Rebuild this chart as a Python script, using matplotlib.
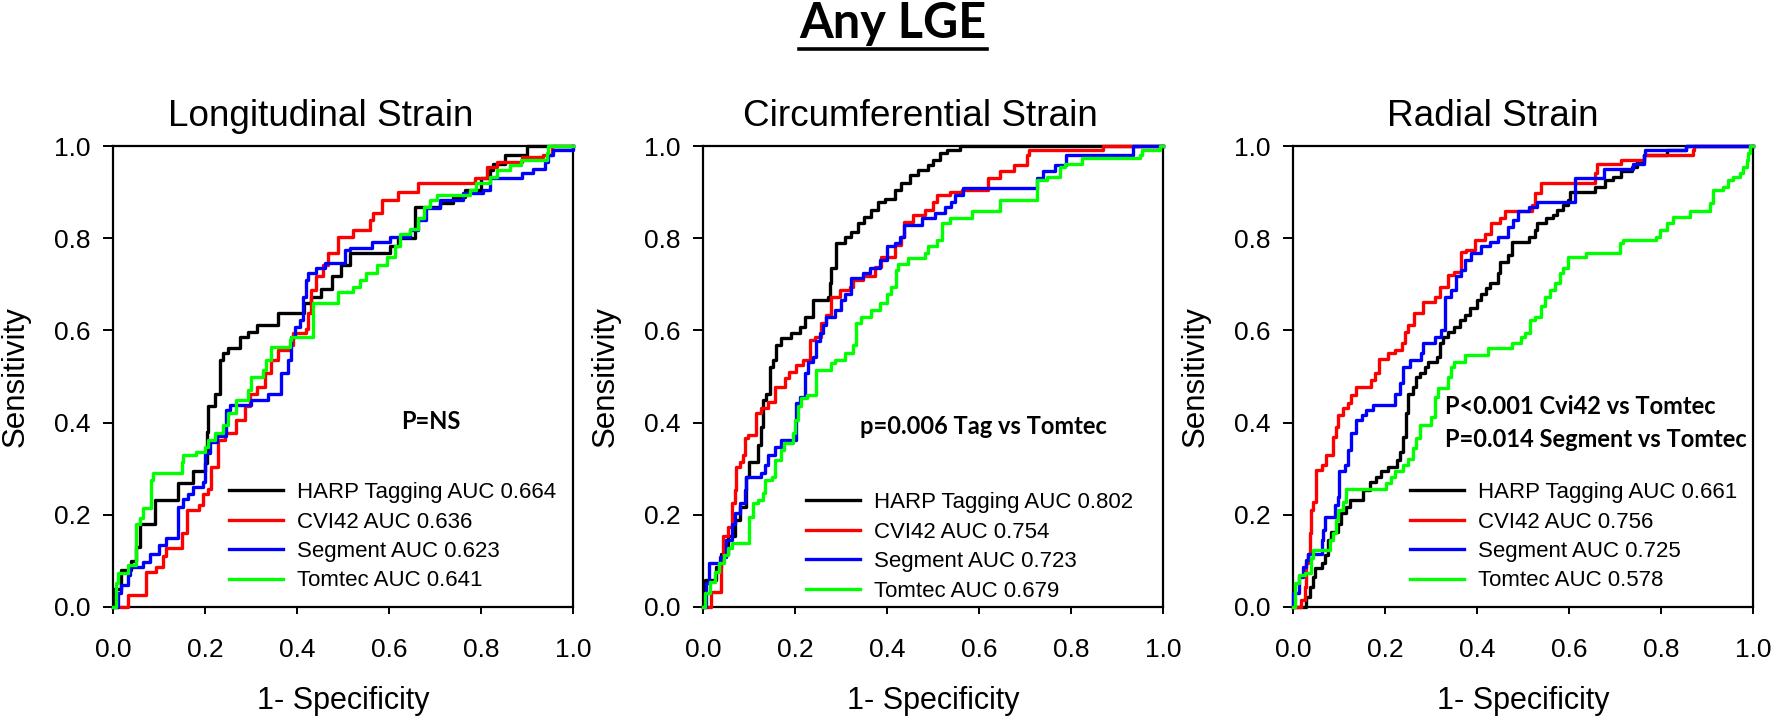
import numpy as np
import matplotlib
matplotlib.use("Agg")
import matplotlib.pyplot as plt
from matplotlib.lines import Line2D
from matplotlib.ticker import FormatStrFormatter

plt.rcParams['font.family'] = ['Liberation Sans', 'DejaVu Sans']

# ---Data (fpr, tpr)---
PANEL_TITLES = ["Longitudinal Strain", "Circumferential Strain", "Radial Strain"]
METHODS = ["HARP Tagging", "CVI42", "Segment", "Tomtec"]
COLORS = ["#000000", "#ff0000", "#0000ff", "#00ff00"]

LONG_AUC = [0.664, 0.636, 0.623, 0.641]
CIRC_AUC = [0.802, 0.754, 0.723, 0.679]
RAD_AUC = [0.661, 0.756, 0.725, 0.578]

P_TEXTS = [["P=NS"], ["p=0.006 Tag vs Tomtec"],
           ["P<0.001 Cvi42 vs Tomtec", "P=0.014 Segment vs Tomtec"]]

LONG_HARP = [(0, 0), (0.003, 0.04), (0.018, 0.08), (0.04, 0.10), (0.05, 0.13), (0.058, 0.181),
             (0.091, 0.232), (0.141, 0.268), (0.174, 0.294), (0.199, 0.312), (0.205, 0.38),
             (0.207, 0.435), (0.221, 0.463), (0.232, 0.536), (0.239, 0.55), (0.25, 0.561),
             (0.275, 0.586), (0.293, 0.597), (0.312, 0.612), (0.359, 0.637), (0.415, 0.66),
             (0.43, 0.672), (0.453, 0.69), (0.475, 0.717), (0.496, 0.742), (0.515, 0.767),
             (0.602, 0.782), (0.62, 0.80), (0.656, 0.868), (0.711, 0.876), (0.74, 0.89),
             (0.765, 0.905), (0.80, 0.93), (0.82, 0.948), (0.827, 0.962), (0.852, 0.98),
             (0.899, 1.0), (1.0, 1.0)]
LONG_CVI42 = [(0, 0), (0.018, 0.0), (0.033, 0.026), (0.072, 0.077), (0.094, 0.087), (0.109, 0.11),
              (0.116, 0.127), (0.149, 0.16), (0.16, 0.21), (0.188, 0.221), (0.196, 0.246),
              (0.207, 0.257), (0.214, 0.304), (0.228, 0.362), (0.243, 0.377), (0.268, 0.406),
              (0.286, 0.435), (0.297, 0.463), (0.312, 0.478), (0.33, 0.507), (0.344, 0.536),
              (0.359, 0.557), (0.384, 0.568), (0.391, 0.594), (0.42, 0.604), (0.424, 0.637),
              (0.431, 0.688), (0.442, 0.717), (0.457, 0.742), (0.467, 0.767), (0.489, 0.803),
              (0.522, 0.818), (0.558, 0.84), (0.566, 0.854), (0.584, 0.883), (0.62, 0.901),
              (0.664, 0.919), (0.787, 0.93), (0.812, 0.955), (0.834, 0.966), (0.889, 0.977),
              (0.935, 0.98), (0.954, 1.0), (1.0, 1.0)]
LONG_SEGMENT = [(0, 0), (0.011, 0), (0.011, 0.03), (0.018, 0.048), (0.033, 0.069), (0.036, 0.087),
                (0.065, 0.098), (0.08, 0.116), (0.101, 0.134), (0.116, 0.149), (0.141, 0.217),
                (0.152, 0.235), (0.163, 0.246), (0.174, 0.261), (0.196, 0.272), (0.199, 0.333),
                (0.21, 0.359), (0.225, 0.37), (0.246, 0.427), (0.254, 0.438), (0.301, 0.449),
                (0.337, 0.463), (0.366, 0.507), (0.38, 0.536), (0.388, 0.586), (0.395, 0.608),
                (0.406, 0.623), (0.413, 0.673), (0.42, 0.709), (0.424, 0.724), (0.442, 0.735),
                (0.46, 0.746), (0.504, 0.774), (0.515, 0.778), (0.562, 0.792), (0.602, 0.803),
                (0.646, 0.818), (0.664, 0.84), (0.68, 0.865), (0.711, 0.883), (0.761, 0.897),
                (0.805, 0.905), (0.82, 0.93), (0.889, 0.941), (0.913, 0.951), (0.939, 0.966),
                (0.946, 0.98), (0.957, 0.991), (1.0, 0.991), (1.0, 1.0)]
LONG_TOMTEC = [(0, 0), (0.007, 0.051), (0.011, 0.073), (0.033, 0.091), (0.051, 0.181), (0.058, 0.192),
               (0.065, 0.214), (0.083, 0.275), (0.087, 0.29), (0.149, 0.315), (0.152, 0.33),
               (0.181, 0.337), (0.199, 0.348), (0.207, 0.362), (0.221, 0.377), (0.239, 0.395),
               (0.25, 0.42), (0.268, 0.449), (0.293, 0.471), (0.301, 0.5), (0.326, 0.514),
               (0.333, 0.536), (0.344, 0.565), (0.384, 0.579), (0.388, 0.586), (0.435, 0.659),
               (0.489, 0.684), (0.522, 0.695), (0.537, 0.709), (0.551, 0.724), (0.573, 0.742),
               (0.595, 0.76), (0.613, 0.782), (0.624, 0.81), (0.646, 0.821), (0.664, 0.843),
               (0.675, 0.868), (0.69, 0.883), (0.704, 0.894), (0.776, 0.905), (0.79, 0.919),
               (0.82, 0.933), (0.834, 0.948), (0.863, 0.959), (0.888, 0.969), (0.943, 0.984),
               (0.946, 1.0), (1.0, 1.0)]

CIRC_HARP = [(0, 0), (0.004, 0.058), (0.029, 0.087), (0.04, 0.116), (0.054, 0.153), (0.069, 0.189),
             (0.08, 0.218), (0.094, 0.283), (0.101, 0.315), (0.12, 0.351), (0.127, 0.391),
             (0.13, 0.449), (0.138, 0.463), (0.145, 0.521), (0.152, 0.536), (0.159, 0.568),
             (0.17, 0.583), (0.192, 0.594), (0.21, 0.608), (0.221, 0.63), (0.239, 0.666),
             (0.272, 0.673), (0.275, 0.702), (0.279, 0.735), (0.29, 0.789), (0.308, 0.803),
             (0.322, 0.814), (0.337, 0.832), (0.351, 0.847), (0.366, 0.861), (0.38, 0.879),
             (0.395, 0.886), (0.417, 0.905), (0.431, 0.919), (0.449, 0.937), (0.467, 0.948),
             (0.489, 0.959), (0.501, 0.97), (0.515, 0.984), (0.53, 0.991), (0.558, 1.0), (1.0, 1.0)]
CIRC_CVI42 = [(0, 0), (0.011, 0), (0.018, 0.033), (0.04, 0.102), (0.043, 0.153), (0.054, 0.174),
              (0.062, 0.225), (0.069, 0.254), (0.072, 0.304), (0.08, 0.315), (0.087, 0.33),
              (0.091, 0.366), (0.098, 0.373), (0.116, 0.42), (0.127, 0.431), (0.141, 0.445),
              (0.156, 0.478), (0.178, 0.496), (0.188, 0.51), (0.203, 0.525), (0.217, 0.536),
              (0.232, 0.579), (0.243, 0.586), (0.257, 0.615), (0.268, 0.633), (0.279, 0.673),
              (0.297, 0.688), (0.319, 0.695), (0.326, 0.709), (0.348, 0.717), (0.373, 0.738),
              (0.388, 0.76), (0.417, 0.785), (0.431, 0.803), (0.438, 0.836), (0.457, 0.85),
              (0.482, 0.861), (0.501, 0.879), (0.508, 0.894), (0.537, 0.901), (0.562, 0.905),
              (0.62, 0.93), (0.646, 0.945), (0.675, 0.959), (0.704, 0.98), (0.708, 0.991),
              (0.87, 1.0), (1.0, 1.0)]
CIRC_SEGMENT = [(0, 0), (0.007, 0.051), (0.014, 0.095), (0.036, 0.109), (0.051, 0.145), (0.062, 0.181),
                (0.069, 0.203), (0.08, 0.225), (0.091, 0.254), (0.094, 0.283), (0.127, 0.29),
                (0.134, 0.308), (0.141, 0.33), (0.156, 0.348), (0.17, 0.362), (0.203, 0.442),
                (0.21, 0.456), (0.221, 0.507), (0.228, 0.532), (0.239, 0.543), (0.246, 0.576),
                (0.254, 0.594), (0.261, 0.612), (0.268, 0.63), (0.286, 0.644), (0.301, 0.666),
                (0.308, 0.68), (0.322, 0.713), (0.348, 0.724), (0.362, 0.735), (0.384, 0.753),
                (0.399, 0.782), (0.417, 0.789), (0.428, 0.803), (0.438, 0.828), (0.475, 0.843),
                (0.504, 0.854), (0.525, 0.868), (0.54, 0.879), (0.548, 0.894), (0.566, 0.908),
                (0.725, 0.93), (0.74, 0.945), (0.765, 0.959), (0.79, 0.98), (0.935, 1.0), (1.0, 1.0)]
CIRC_TOMTEC = [(0, 0), (0.005, 0.03), (0.015, 0.055), (0.025, 0.075), (0.035, 0.095), (0.045, 0.112),
               (0.055, 0.128), (0.062, 0.138), (0.101, 0.196), (0.109, 0.225), (0.12, 0.232),
               (0.13, 0.247), (0.134, 0.275), (0.149, 0.283), (0.156, 0.319), (0.17, 0.34),
               (0.177, 0.355), (0.196, 0.377), (0.199, 0.406), (0.207, 0.435), (0.214, 0.453),
               (0.225, 0.46), (0.246, 0.514), (0.279, 0.529), (0.286, 0.536), (0.308, 0.55),
               (0.326, 0.568), (0.333, 0.615), (0.344, 0.63), (0.366, 0.644), (0.384, 0.659),
               (0.399, 0.68), (0.409, 0.695), (0.42, 0.731), (0.424, 0.745), (0.446, 0.756),
               (0.482, 0.767), (0.489, 0.782), (0.508, 0.796), (0.519, 0.832), (0.537, 0.843),
               (0.584, 0.858), (0.646, 0.883), (0.725, 0.926), (0.747, 0.933), (0.776, 0.955),
               (0.787, 0.962), (0.823, 0.973), (0.95, 0.98), (0.954, 0.991), (0.994, 1.0), (1.0, 1.0)]

RAD_HARP = [(0, 0), (0.025, 0), (0.029, 0.022), (0.036, 0.044), (0.043, 0.066), (0.047, 0.084),
            (0.062, 0.095), (0.069, 0.113), (0.076, 0.145), (0.083, 0.163), (0.098, 0.181),
            (0.105, 0.203), (0.116, 0.218), (0.123, 0.232), (0.152, 0.254), (0.167, 0.272),
            (0.181, 0.283), (0.192, 0.294), (0.207, 0.304), (0.225, 0.319), (0.232, 0.337),
            (0.239, 0.369), (0.246, 0.42), (0.25, 0.463), (0.261, 0.478), (0.268, 0.5),
            (0.275, 0.507), (0.286, 0.521), (0.293, 0.532), (0.312, 0.543), (0.319, 0.572),
            (0.326, 0.586), (0.337, 0.597), (0.351, 0.608), (0.362, 0.623), (0.373, 0.633),
            (0.384, 0.648), (0.399, 0.666), (0.409, 0.68), (0.42, 0.691), (0.428, 0.702),
            (0.446, 0.724), (0.449, 0.749), (0.467, 0.764), (0.475, 0.792), (0.512, 0.803),
            (0.526, 0.818), (0.53, 0.832), (0.551, 0.843), (0.566, 0.85), (0.573, 0.861),
            (0.588, 0.872), (0.598, 0.883), (0.602, 0.901), (0.656, 0.912), (0.678, 0.926),
            (0.696, 0.933), (0.714, 0.945), (0.736, 0.955), (0.747, 0.966), (0.762, 0.98),
            (0.812, 0.991), (0.855, 1.0), (1.0, 1.0)]
RAD_CVI42 = [(0, 0), (0.014, 0), (0.018, 0.015), (0.025, 0.044), (0.029, 0.095), (0.033, 0.116),
             (0.036, 0.16), (0.04, 0.21), (0.043, 0.228), (0.051, 0.297), (0.062, 0.308),
             (0.072, 0.33), (0.087, 0.369), (0.094, 0.391), (0.098, 0.416), (0.109, 0.431),
             (0.12, 0.442), (0.127, 0.46), (0.138, 0.478), (0.17, 0.492), (0.178, 0.507),
             (0.188, 0.539), (0.207, 0.55), (0.221, 0.557), (0.236, 0.572), (0.243, 0.597),
             (0.25, 0.612), (0.264, 0.637), (0.283, 0.662), (0.308, 0.673), (0.319, 0.695),
             (0.337, 0.72), (0.351, 0.727), (0.366, 0.771), (0.377, 0.775), (0.395, 0.796),
             (0.417, 0.81), (0.431, 0.832), (0.449, 0.843), (0.46, 0.858), (0.519, 0.872),
             (0.526, 0.897), (0.54, 0.919), (0.656, 0.941), (0.66, 0.962), (0.714, 0.97),
             (0.762, 0.98), (0.87, 0.991), (0.872, 1.0), (1.0, 1.0)]
RAD_SEGMENT = [(0, 0), (0.0, 0.03), (0.014, 0.066), (0.022, 0.087), (0.029, 0.102), (0.033, 0.116),
               (0.062, 0.145), (0.065, 0.167), (0.069, 0.196), (0.091, 0.221), (0.098, 0.239),
               (0.101, 0.294), (0.112, 0.308), (0.12, 0.341), (0.127, 0.377), (0.138, 0.406),
               (0.149, 0.416), (0.159, 0.427), (0.174, 0.438), (0.221, 0.463), (0.232, 0.485),
               (0.239, 0.521), (0.254, 0.536), (0.279, 0.55), (0.283, 0.572), (0.308, 0.586),
               (0.322, 0.601), (0.33, 0.673), (0.344, 0.688), (0.355, 0.717), (0.366, 0.731),
               (0.373, 0.753), (0.388, 0.767), (0.409, 0.782), (0.428, 0.792), (0.446, 0.803),
               (0.467, 0.825), (0.478, 0.839), (0.489, 0.858), (0.512, 0.868), (0.53, 0.879),
               (0.612, 0.93), (0.675, 0.951), (0.74, 0.962), (0.762, 0.98), (0.765, 0.991),
               (0.855, 1.0), (1.0, 1.0)]
RAD_TOMTEC = [(0, 0), (0.004, 0.051), (0.014, 0.069), (0.025, 0.073), (0.04, 0.106), (0.043, 0.124),
              (0.08, 0.145), (0.087, 0.16), (0.094, 0.189), (0.098, 0.21), (0.109, 0.228),
              (0.116, 0.257), (0.203, 0.268), (0.214, 0.283), (0.221, 0.294), (0.239, 0.308),
              (0.25, 0.322), (0.261, 0.344), (0.268, 0.366), (0.275, 0.395), (0.301, 0.413),
              (0.308, 0.456), (0.315, 0.474), (0.337, 0.5), (0.344, 0.521), (0.351, 0.532),
              (0.373, 0.547), (0.424, 0.561), (0.475, 0.572), (0.496, 0.586), (0.504, 0.594),
              (0.515, 0.622), (0.526, 0.63), (0.54, 0.652), (0.548, 0.673), (0.558, 0.688),
              (0.57, 0.702), (0.58, 0.724), (0.588, 0.735), (0.598, 0.76), (0.638, 0.767),
              (0.711, 0.789), (0.718, 0.796), (0.79, 0.803), (0.797, 0.818), (0.812, 0.832),
              (0.826, 0.847), (0.863, 0.858), (0.906, 0.876), (0.913, 0.905), (0.935, 0.912),
              (0.946, 0.926), (0.957, 0.933), (0.971, 0.941), (0.978, 0.955), (0.986, 0.969),
              (0.99, 0.984), (0.993, 1.0), (1.0, 1.0)]

PANELS = [
    ([LONG_HARP, LONG_CVI42, LONG_SEGMENT, LONG_TOMTEC], LONG_AUC),
    ([CIRC_HARP, CIRC_CVI42, CIRC_SEGMENT, CIRC_TOMTEC], CIRC_AUC),
    ([RAD_HARP, RAD_CVI42, RAD_SEGMENT, RAD_TOMTEC], RAD_AUC),
]

# ---Layout (pixel positions of the reference, 1776 x 716)---
W, H = 1776, 716
AX_LEFT = [113, 703, 1293]
AX_W, AX_H, AX_BOTTOM = 460, 461, 716 - 607
TITLE_X = [321, 920, 1493]
LEGEND_ANCHOR = [(0.252, 0.271), (0.224, 0.249), (0.254, 0.271)]

fig = plt.figure(figsize=(W / 100, H / 100), dpi=100)

title = fig.text(893 / W, (H - 38) / H, "Any LGE", family=["Lato", "DejaVu Sans"], weight="bold",
                 fontsize=35, ha="center", va="baseline")
# underline spans the drawn title
fig.canvas.draw()
bb = title.get_window_extent().transformed(fig.transFigure.inverted())
fig.add_artist(Line2D([bb.x0, bb.x1], [(H - 49) / H] * 2, color="black", lw=2.6))

for i, (curves, aucs) in enumerate(PANELS):
    ax = fig.add_axes([AX_LEFT[i] / W, AX_BOTTOM / H, AX_W / W, AX_H / H])
    for curve, name, auc, color in zip(curves, METHODS, aucs, COLORS):
        pts = np.array(curve)
        ax.plot(pts[:, 0], pts[:, 1], drawstyle="steps-post", color=color, lw=2.4,
                label=f"{name} AUC {auc:.3f}", clip_on=False, zorder=3)

    ax.set_xlim(0, 1)
    ax.set_ylim(0, 1)
    ticks = np.arange(0, 1.01, 0.2)
    ax.set_xticks(ticks)
    ax.set_yticks(ticks)
    ax.xaxis.set_major_formatter(FormatStrFormatter("%.1f"))
    ax.yaxis.set_major_formatter(FormatStrFormatter("%.1f"))
    ax.tick_params(axis="x", direction="out", length=5, width=1.4, pad=17.5, labelsize=19)
    ax.tick_params(axis="y", direction="out", length=7, width=1.4, pad=9, labelsize=19)
    for sp in ax.spines.values():
        sp.set_linewidth(1.6)

    ax.set_xlabel("1- Specificity", fontsize=22)
    ax.xaxis.set_label_coords(0.5, -0.171)
    ax.set_ylabel("Sensitivity", fontsize=22.5)
    ax.yaxis.set_label_coords(-0.18, 0.5)

    fig.text(TITLE_X[i] / W, (H - 126) / H, PANEL_TITLES[i], fontsize=26.6,
             ha="center", va="baseline")

    ax.legend(loc="upper left", bbox_to_anchor=LEGEND_ANCHOR[i], frameon=False, fontsize=16,
              borderpad=0, borderaxespad=0, handlelength=2.45, handletextpad=0.63,
              labelspacing=0.38)

    pfont = dict(family=["Lato", "DejaVu Sans"], weight="bold", fontsize=17)
    if i == 0:
        ax.text(0.691, 0.403, P_TEXTS[0][0], transform=ax.transAxes, ha="center", va="center", **pfont)
    elif i == 1:
        ax.text(0.609, 0.392, P_TEXTS[1][0], transform=ax.transAxes, ha="center", va="center", **pfont)
    else:
        ax.text(0.330, 0.434, P_TEXTS[2][0], transform=ax.transAxes, ha="left", va="center", **pfont)
        ax.text(0.330, 0.364, P_TEXTS[2][1], transform=ax.transAxes, ha="left", va="center", **pfont)

fig.savefig("out.png", dpi=100)
